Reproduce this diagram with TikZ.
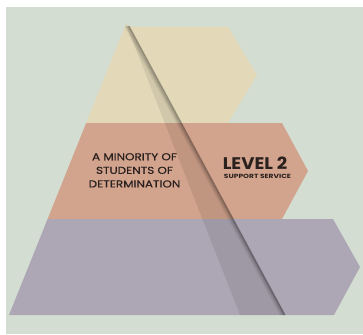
\documentclass[tikz,border=0pt]{standalone}
\usepackage{fontspec}
\setmainfont{Poppins}
\newfontfamily\bodyfont[FakeStretch=1.2,FakeBold=0.6]{Poppins}
\newfontfamily\levelfont[FakeStretch=1.08]{Poppins}
\newfontfamily\servicefont[FakeStretch=1.25]{Poppins}
\definecolor{sage}{HTML}{D3DDD2}
\definecolor{sand}{HTML}{E3D9B9}
\definecolor{clay}{HTML}{D2A38D}
\definecolor{heather}{HTML}{ADA7B5}
\definecolor{ink}{HTML}{2A211F}

\begin{document}
\begin{tikzpicture}[x=1pt,y=-1pt,
  every node/.append style={text=ink,inner sep=0pt},
  band/.style={draw=none},
  label text/.style={align=center,font=\bodyfont\fontsize{10}{13.6}\selectfont}]
  \tikzstyle{level} = [font=\levelfont\fontsize{16.8}{16.8}\selectfont\bfseries]
  \tikzstyle{service} = [font=\servicefont\fontsize{6}{6}\selectfont\bfseries]
  \useasboundingbox (0,0) rectangle (363,334);
  \fill[white] (0,0) rectangle (363,334);
  \fill[sage] (6,7) rectangle (363,334);
  \coordinate (apex) at (126,24);
  \coordinate (foldtop) at (129,26);
  \coordinate (foldbot) at (285,315);
  \coordinate (wedgebot) at (240,315);
  \fill[band,sand] (apex) -- (131,27) -- (228,27) -- (257,75) -- (228,123) -- (86.2,123) -- cycle;
  \fill[band,clay] (86.2,123) -- (282,123) -- (308,171) -- (282,219) -- (47.6,219) -- cycle;
  \fill[band,heather] (47.6,219) -- (333,219) -- (360,267) -- (334,315) -- (9,315) -- cycle;
  \begin{scope}
    \clip (apex) -- (131,27) -- (228,27) -- (257,75) -- (228,123) -- (282,123) -- (308,171)
      -- (282,219) -- (333,219) -- (360,267) -- (334,315) -- (9,315) -- cycle;
    \fill[black,opacity=0.08] (apex) -- (foldbot) -- (wedgebot) -- cycle;
    \foreach \i/\o in {0/0.32,1/0.23,2/0.15,3/0.10,4/0.06,5/0.03}
      \draw[line width=1.1pt,black,opacity=\o] ([xshift=-\i pt]foldtop) -- ([xshift=-\i pt]foldbot);
  \end{scope}
  \node (minority) [label text,anchor=north] at (134.5,153) {A MINORITY OF\\STUDENTS OF\\DETERMINATION};
  \node (level2) [level,anchor=base] at (255,169) {LEVEL 2};
  \node (support) [service,anchor=base] at (257.5,178) {SUPPORT SERVICE};
\end{tikzpicture}
\end{document}
